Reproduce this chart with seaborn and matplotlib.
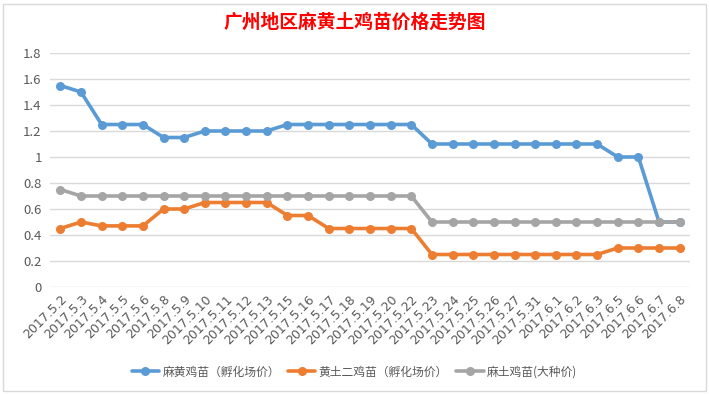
import numpy as np
import pandas as pd
import matplotlib.pyplot as plt
import matplotlib.ticker as mt
from matplotlib.patches import Rectangle
import seaborn as sns

#%% data
dates = ['2017.5.2', '2017.5.3', '2017.5.4', '2017.5.5', '2017.5.6', '2017.5.8',
         '2017.5.9', '2017.5.10', '2017.5.11', '2017.5.12', '2017.5.13', '2017.5.15',
         '2017.5.16', '2017.5.17', '2017.5.18', '2017.5.19', '2017.5.20', '2017.5.22',
         '2017.5.23', '2017.5.24', '2017.5.25', '2017.5.26', '2017.5.27', '2017.5.31',
         '2017.6.1', '2017.6.2', '2017.6.3', '2017.6.5', '2017.6.6', '2017.6.7', '2017.6.8']

mahuang = [1.55, 1.5, 1.25, 1.25, 1.25, 1.15, 1.15, 1.2, 1.2, 1.2, 1.2, 1.25,
           1.25, 1.25, 1.25, 1.25, 1.25, 1.25, 1.1, 1.1, 1.1, 1.1, 1.1, 1.1,
           1.1, 1.1, 1.1, 1.0, 1.0, 0.5, 0.5]
huangtu = [0.45, 0.5, 0.47, 0.47, 0.47, 0.6, 0.6, 0.65, 0.65, 0.65, 0.65, 0.55,
           0.55, 0.45, 0.45, 0.45, 0.45, 0.45, 0.25, 0.25, 0.25, 0.25, 0.25, 0.25,
           0.25, 0.25, 0.25, 0.3, 0.3, 0.3, 0.3]
matu = [0.75, 0.7, 0.7, 0.7, 0.7, 0.7, 0.7, 0.7, 0.7, 0.7, 0.7, 0.7,
        0.7, 0.7, 0.7, 0.7, 0.7, 0.7, 0.5, 0.5, 0.5, 0.5, 0.5, 0.5,
        0.5, 0.5, 0.5, 0.5, 0.5, 0.5, 0.5]

names = ['麻黄鸡苗（孵化场价）', '黄土二鸡苗（孵化场价）', '麻土鸡苗(大种价)']
colors = ['#5b9bd5', '#ed7d31', '#a5a5a5']

df = pd.DataFrame({'pos': np.arange(len(dates)), names[0]: mahuang,
                   names[1]: huangtu, names[2]: matu})
df = df.melt(id_vars='pos', var_name='series', value_name='price')

#%% figure
sns.set_style('white')
plt.rcParams['font.family'] = ['Noto Sans CJK SC', 'DejaVu Sans']

fig = plt.figure(figsize=(7.09, 3.94), dpi=100)
ax = fig.add_axes([50/709, 1-287/394, 640/709, 234/394])

sns.lineplot(data=df, x='pos', y='price', hue='series', hue_order=names,
             palette=colors, marker='o', markersize=6.5, markeredgewidth=0,
             linewidth=2.6, sort=False, ax=ax)

ax.set_xlim(-0.5, len(dates)-0.5)
ax.set_ylim(0, 1.8)
ax.yaxis.set_major_locator(mt.MultipleLocator(0.2))
ax.yaxis.set_major_formatter(mt.FuncFormatter(lambda v, p: '%g' % round(v, 2)))
ax.set_xticks(np.arange(len(dates)))
ax.set_xticklabels(dates, rotation=45, ha='right', rotation_mode='anchor',
                   fontsize=9, color='#595959', family='DejaVu Sans')
ax.tick_params(axis='x', length=0, pad=4)
ax.tick_params(axis='y', length=0, pad=6, labelsize=9.5, labelcolor='#595959')
ax.grid(axis='y', color='#d9d9d9', linewidth=1)
ax.set_axisbelow(True)
for s in ax.spines.values():
    s.set_visible(False)
ax.set_xlabel('')
ax.set_ylabel('')

ax.legend(loc='center', bbox_to_anchor=(0.5, 1-372/394), bbox_transform=fig.transFigure,
          ncol=3, frameon=False, fontsize=8.5, handlelength=2.3, columnspacing=0.7,
          handletextpad=0.3, labelcolor='#595959')

fig.text(0.5, 1-22/394, '广州地区麻黄土鸡苗价格走势图', color='#ff0000', fontsize=13.5,
         ha='center', va='center', fontweight='bold')

fig.patches.append(Rectangle((3/709, 3/394), 703/709, 387/394, transform=fig.transFigure,
                             fill=False, edgecolor='#d9d9d9', linewidth=1))

fig.savefig('out.png', dpi=100, facecolor='w')
